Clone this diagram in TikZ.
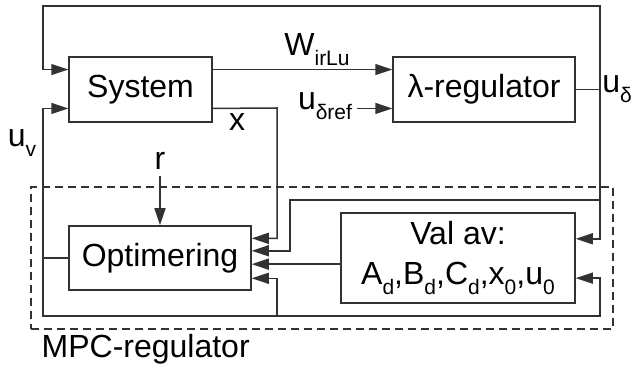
\documentclass[tikz,border=0pt]{standalone}
\usepackage{fontspec}
\setmainfont{Liberation Sans}
\usetikzlibrary{arrows.meta,calc}
\definecolor{linegray}{RGB}{50,50,50}
\newcommand{\low}[1]{\raisebox{-5pt}{\fontsize{10.5}{12}\selectfont #1}}

\begin{document}
\begin{tikzpicture}[x=0.5pt,y=-0.5pt,
    box/.style={draw=linegray, line width=0.75pt, inner sep=0pt, font=\fontsize{16}{20}\selectfont},
    lbl/.style={inner sep=0pt, font=\fontsize{16}{20}\selectfont},
    wire/.style={draw=linegray, line width=0.75pt},
    arr/.style={wire, -{Triangle[length=8.5pt,width=5.5pt]}}]
    \useasboundingbox (0,0) rectangle (633,367);

    % MPC frame
    \node[draw=linegray, line width=0.75pt, dashed, dash pattern=on 4pt off 2.5pt,
          minimum width=291pt, minimum height=71pt] (mpc) at (322,258) {};
    \node[lbl, anchor=base west] (mpclbl) at ($(mpc.south west)+(11,28)$) {MPC-regulator};

    % Blocks
    \node[box, minimum width=71.5pt, minimum height=32.5pt] (sys) at (140.5,89.5) {System};
    \node[box, minimum width=91pt, minimum height=32.5pt] (lam) at (484,89.5) {λ-regulator};
    \node[box, minimum width=91pt, minimum height=32pt] (opt) at (160,258) {Optimering};
    \node[box, minimum width=117pt, minimum height=45pt, align=center] (val) at (458,258)
        {Val av:\\A\low{d},B\low{d},C\low{d},x\low{0},u\low{0}};

    % Ports
    \coordinate (sysin1) at ($(sys.north west)!0.2!(sys.south west)$);
    \coordinate (sysin2) at ($(sys.north west)!0.785!(sys.south west)$);
    \coordinate (sysout1) at ($(sys.north east)!0.2!(sys.south east)$);
    \coordinate (sysout2) at ($(sys.north east)!0.785!(sys.south east)$);
    \coordinate (lamin1) at ($(lam.north west)!0.2!(lam.south west)$);
    \coordinate (lamin2) at ($(lam.north west)!0.785!(lam.south west)$);
    \coordinate (optin1) at ($(opt.north east)!0.2!(opt.south east)$);
    \coordinate (optin2) at ($(opt.north east)!0.39!(opt.south east)$);
    \coordinate (optin3) at ($(opt.north east)!0.594!(opt.south east)$);
    \coordinate (optin4) at ($(opt.north east)!0.81!(opt.south east)$);
    \coordinate (valin1) at ($(val.north east)!0.29!(val.south east)$);
    \coordinate (valin2) at ($(val.north east)!0.72!(val.south east)$);

    % Junctions
    \coordinate (ud) at (600,89.5);
    \coordinate (tl) at (43,6);
    \coordinate (j2) at (290,200);
    \coordinate (br) at (600,200);
    \coordinate (xc) at (277,108);
    \coordinate (uv) at (43,258);
    \coordinate (bl) at (43,316);
    \coordinate (bx) at (277,316);
    \coordinate (brr) at (600,316);

    % Labels
    \node[lbl] (wlbl) at (317,50) {W\low{irLu}};
    \node[lbl] (uref) at (325,106) {u\low{δref}};
    \node[lbl] (xlbl) at (237,122) {x};
    \node[lbl] (uvlbl) at (22,143) {u\low{v}};
    \node[lbl] (rlbl) at (160,161) {r};
    \node[lbl] (udlbl) at (617,89) {u\low{δ}};

    % Signals
    \draw[arr] (sysout1) -- (lamin1);
    \draw[arr] ([xshift=2.5pt]uref.east |- lamin2) -- (lamin2);
    \draw[wire] (lam.east) -- (ud);
    \draw[arr] (ud) |- (tl) |- (sysin1);
    \draw[arr] (ud) |- (valin1);
    \draw[arr] (br) -- (j2) |- (optin2);
    \draw[arr] (sysout2) -- (xc) |- (optin1);
    \draw[arr] ([yshift=-3pt]rlbl.south) -- (opt.north);
    \draw[arr] (val.west |- optin3) -- (optin3);
    \draw[arr] (opt.west) -- (uv) |- (sysin2);
    \draw[arr] (uv) -- (bl) -- (brr) |- (valin2);
    \draw[arr] (bx) |- (optin4);
\end{tikzpicture}
\end{document}
